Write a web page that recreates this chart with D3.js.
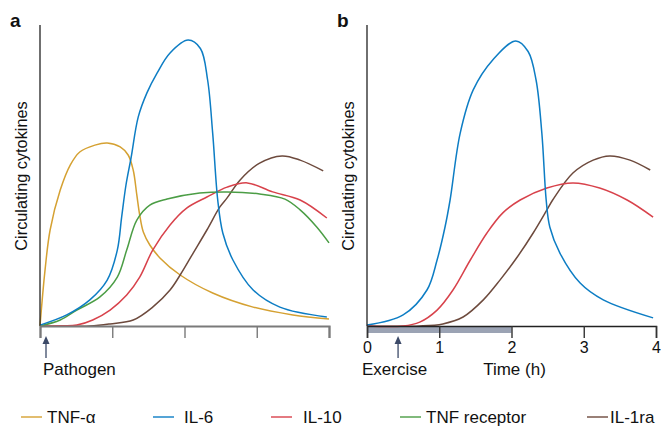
<!DOCTYPE html>
<html>
<head>
<meta charset="utf-8">
<script src="https://cdn.jsdelivr.net/npm/d3@7"></script>
<style>
  body { margin: 0; background: #fff; }
  text { font-family: "Liberation Sans", Arial, sans-serif; fill: #111; }
</style>
</head>
<body>
<script>
const w = 661;
const h = 427;

// series names and colours (legend order)
const names = ["TNF-α", "IL-6", "IL-10", "TNF receptor", "IL-1ra"];
const colors = ["#d5a132", "#0d7dc4", "#d8424b", "#4b9d45", "#6d4a3d"];

// panel a: infection (time in arbitrary units, value 0-100)
const tnfA = [[0,0],[0.07,18.7],[0.14,32],[0.28,45.3],[0.42,53.7],[0.55,58],[0.76,60.3],[0.93,61],[1.11,59.7],[1.22,57],[1.29,52],[1.34,43.7],[1.38,37],[1.43,31.3],[1.52,27],[1.66,22.7],[1.94,17],[2.39,11],[2.95,6.3],[3.5,3.7],[4,2.3]];
const il6A = [[0,0.3],[0.37,3.7],[0.69,8.7],[0.93,15.3],[1.07,25.3],[1.13,36.3],[1.19,47],[1.26,56],[1.36,69.7],[1.48,77.7],[1.62,84.3],[1.8,91],[2.05,95.3],[2.22,92.5],[2.32,82],[2.39,64.3],[2.46,42],[2.53,31],[2.67,22],[2.95,12],[3.32,6.3],[3.97,3]];
const il10A = [[0,0],[0.28,0.1],[0.51,0.3],[0.73,2],[0.97,5.3],[1.2,10.3],[1.38,16.3],[1.56,25.3],[1.8,33.7],[2.03,39.3],[2.31,43],[2.59,46.3],[2.87,47.7],[3.22,44.7],[3.6,42],[3.97,36]];
const tnfrA = [[0,0],[0.28,2],[0.51,5.3],[0.83,9.7],[1.07,16.3],[1.2,25.3],[1.34,35.3],[1.52,40.3],[1.76,42.3],[2.21,44.3],[2.59,44.7],[3.04,44],[3.39,42.3],[3.6,38.7],[3.83,33],[4,27.7]];
const il1raA = [[0,0],[0.69,0],[0.97,0.7],[1.29,2],[1.56,6.3],[1.8,12],[1.94,17],[2.12,24.3],[2.31,32],[2.49,39.7],[2.59,42.7],[2.77,48.7],[3.04,54.3],[3.35,56.7],[3.6,55.3],[3.92,51.7]];

// panel b: exercise (time in hours)
const il6B = [[0,0.3],[0.5,3.7],[0.83,12],[0.97,22],[1.08,33],[1.15,42],[1.29,64.3],[1.47,78.7],[1.74,88.7],[2.06,95],[2.23,91.5],[2.34,82],[2.42,64.3],[2.48,42],[2.53,33],[2.67,24.3],[2.95,14.3],[3.27,8.7],[3.96,2.7]];
const il10B = [[0,0],[0.5,0],[0.73,1.3],[0.97,5.3],[1.19,12],[1.43,22],[1.66,31],[1.88,37.7],[2.12,42],[2.49,46],[2.85,47.7],[3.22,46],[3.6,42],[3.96,36.3]];
const il1raB = [[0,0],[0.73,0],[1.05,0.7],[1.33,3],[1.61,8.7],[1.84,15.3],[2.08,23],[2.3,31],[2.49,38.7],[2.57,42],[2.85,51],[3.13,55.3],[3.36,56.7],[3.64,55.3],[3.92,52]];

const ticks = [0, 1, 2, 3, 4];
const exercise = [0, 2]; // hours

const svg = d3.select("body").append("svg")
  .attr("width", w)
  .attr("height", h);

const y = d3.scaleLinear().domain([0, 100]).range([326, 26]);

function panel(x0, x1, letter, series, isB) {
  const x = d3.scaleLinear().domain([0, 4]).range([x0, x1]);
  const g = svg.append("g");

  const line = d3.line()
    .x(d => x(d[0]))
    .y(d => Math.min(326, y(d[1])))
    .curve(d3.curveCatmullRom.alpha(0.5));

  if (isB) {
    g.append("rect")
      .attr("x", x(exercise[0]))
      .attr("y", 326)
      .attr("width", x(exercise[1]) - x(exercise[0]))
      .attr("height", 7)
      .attr("fill", "#9ba3b4");
  }

  series.forEach(s => {
    g.append("path")
      .datum(s.data)
      .attr("fill", "none")
      .attr("stroke", colors[s.i])
      .attr("stroke-width", 1.5)
      .attr("d", line);
  });

  // y axis
  g.append("line")
    .attr("x1", x0).attr("x2", x0)
    .attr("y1", 25).attr("y2", 326)
    .attr("stroke", "#222").attr("stroke-width", 1.3);

  // x axis
  const ax = g.append("g")
    .attr("transform", "translate(0,326)")
    .call(d3.axisBottom(x).tickValues(ticks).tickSize(12)
      .tickFormat(isB ? d3.format("d") : ""));
  ax.select(".domain").attr("stroke", isB ? "#222" : "#7a7a7a").attr("stroke-width", isB ? 1.5 : 2.2);
  ax.selectAll(".tick line").attr("stroke", isB ? "#333" : "#7a7a7a").attr("stroke-width", 1.4);
  ax.selectAll(".tick text")
    .attr("y", 15.5)
    .style("font-family", "Liberation Sans, Arial, sans-serif")
    .style("font-size", "16px")
    .attr("fill", "#111");

  g.append("text")
    .attr("x", x0 - 30)
    .attr("y", 27)
    .style("font-weight", "bold")
    .style("font-size", "19px")
    .text(letter);

  g.append("text")
    .attr("transform", `translate(${x0 - 13},176) rotate(-90)`)
    .attr("text-anchor", "middle")
    .style("font-size", "16.3px")
    .text("Circulating cytokines");

  // arrow marking the start
  const ax0 = isB ? x(0.43) : x0 + 6;
  g.append("line")
    .attr("x1", ax0).attr("x2", ax0)
    .attr("y1", 358).attr("y2", 341)
    .attr("stroke", "#3c4a68").attr("stroke-width", 1.3);
  g.append("path")
    .attr("d", `M${ax0 - 3.5},${344} L${ax0},${336} L${ax0 + 3.5},${344} Z`)
    .attr("fill", "#3c4a68");

  g.append("text")
    .attr("x", isB ? x0 - 5 : x0 + 3)
    .attr("y", 375)
    .style("font-size", "17px")
    .text(isB ? "Exercise" : "Pathogen");

  if (isB) {
    g.append("text")
      .attr("x", x(2) + 3)
      .attr("y", 375)
      .attr("text-anchor", "middle")
      .style("font-size", "17px")
      .text("Time (h)");
  }
}

panel(40, 329, "a", [
  { i: 0, data: tnfA },
  { i: 4, data: il1raA },
  { i: 2, data: il10A },
  { i: 3, data: tnfrA },
  { i: 1, data: il6A }
], false);

panel(367, 656, "b", [
  { i: 4, data: il1raB },
  { i: 2, data: il10B },
  { i: 1, data: il6B }
], true);

// legend
const legendX = [21, 153, 271, 400, 587];
const legendText = [47, 184, 303, 426, 610];
const leg = svg.append("g");
names.forEach((n, i) => {
  leg.append("line")
    .attr("x1", legendX[i]).attr("x2", legendX[i] + 21)
    .attr("y1", 417).attr("y2", 417)
    .attr("stroke", colors[i]).attr("stroke-opacity", 0.7)
    .attr("stroke-width", 2);
  leg.append("text")
    .attr("x", legendText[i])
    .attr("y", 423)
    .style("font-size", "17px")
    .text(n);
});
</script>
</body>
</html>
